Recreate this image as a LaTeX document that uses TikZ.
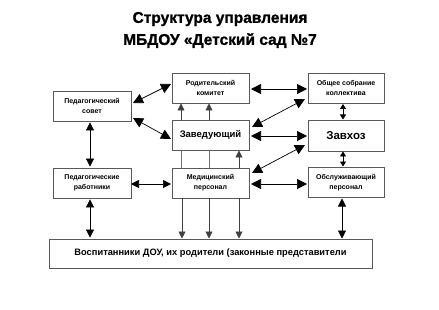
\documentclass[tikz,border=0pt]{standalone}
\usepackage{fontspec}
\setmainfont{Liberation Sans}
\newfontfamily\heavy[FakeBold=1.2]{Liberation Sans Bold}
\usetikzlibrary{arrows.meta}
\begin{document}
\begin{tikzpicture}[x=1pt,y=-1pt,
  box/.style={draw=black!65,line width=0.8pt,fill=white,align=center,font=\bfseries,inner sep=0pt},
  con/.style={line width=0.7pt,{Triangle[width=8pt,length=8pt]}-{Triangle[width=8pt,length=8pt]}},
  short/.style={line width=0.7pt,{Triangle[width=6pt,length=5pt]}-{Triangle[width=6pt,length=5pt]}},
  big/.style={line width=0.7pt,{Triangle[width=10pt,length=10pt]}-{Triangle[width=10pt,length=10pt]}},
  up/.style={line width=0.7pt,draw=black!75,-{Triangle[width=7pt,length=7pt]}},
  plain/.style={line width=0.7pt,draw=black!55}]
\useasboundingbox (0,0) rectangle (439,310);
\node[font=\heavy\fontsize{15.5}{22}\selectfont,align=center] (title) at (220,30) {Структура управления\\МБДОУ «Детский сад №7};

\node[box,minimum width=78,minimum height=30,font=\bfseries\fontsize{7}{10}\selectfont] (ps) at (92,106) {Педагогический\\совет};
\node[box,minimum width=78,minimum height=30,font=\bfseries\fontsize{7}{10}\selectfont] (pw) at (92,183) {Педагогические\\работники};
\node[box,minimum width=77,minimum height=30,font=\bfseries\fontsize{7}{10}\selectfont] (rk) at (210.5,88) {Родительский\\комитет};
\node[box,minimum width=77,minimum height=30,font=\bfseries\fontsize{9.5}{12}\selectfont] (zv) at (210.5,135) {Заведующий};
\node[box,minimum width=77,minimum height=30,font=\bfseries\fontsize{7}{10}\selectfont] (mp) at (210.5,183) {Медицинский\\персонал};
\node[box,minimum width=76,minimum height=30,font=\bfseries\fontsize{7}{10}\selectfont] (os) at (346,88) {Общее собрание\\коллектива};
\node[box,minimum width=76,minimum height=31,font=\bfseries\fontsize{11.5}{14}\selectfont] (zh) at (346,135.5) {Завхоз};
\node[box,minimum width=76,minimum height=30,font=\bfseries\fontsize{7}{10}\selectfont] (op) at (346,182.5) {Обслуживающий\\персонал};
\node[box,minimum width=323,minimum height=29,font=\bfseries\fontsize{9.3}{11}\selectfont] (bt) at (210.5,253.5) {Воспитанники ДОУ, их родители (законные представители};

% left column
\draw[con] ([yshift=-1]ps.south -| 90,0) -- ([yshift=1]pw.north -| 90,0);
\draw[con] ([yshift=-1]pw.south -| 90,0) -- ([yshift=1]bt.north -| 90,0);
\draw[con] (131,184) -- (171,184);
\draw[big] (133,103) -- (171,84);
\draw[big] (133,118) -- (171,139);

% center
\draw[up] (181,120) -- (181,103.5);
\draw[up] (209,120) -- (209,103.5);
\draw[plain] (181,168) -- (181,150);
\draw[plain] (209,168) -- (209,150);
\draw[up] (239,168) -- (239,150.5);
\draw[up] (182,198) -- (182,238.5);
\draw[up] (209,198) -- (209,238.5);
\draw[up] (239,198) -- (239,238.5);

% right side
\draw[big] (251,89) -- (307,89);
\draw[big] (251,136) -- (307,136);
\draw[big] (251,184) -- (307,184);
\draw[big] (252,127) -- (305,99);
\draw[big] (252,173) -- (305,145);
\draw[short] (343,104) -- (343,119.5);
\draw[short] (343,151.5) -- (343,166.5);
\draw[con] (342,198.5) -- (342,238.5);
\end{tikzpicture}
\end{document}
